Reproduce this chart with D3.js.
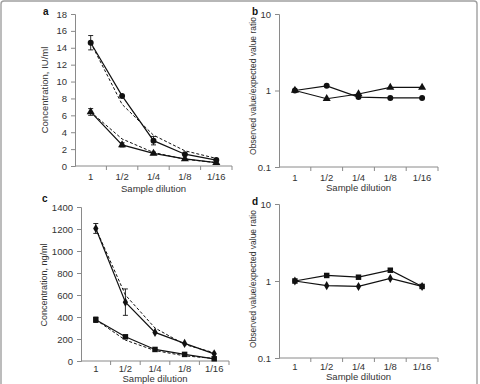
<!DOCTYPE html>
<html lang="en">
<head>
<meta charset="UTF-8">
<title>Dilution linearity</title>
<script src="https://cdnjs.cloudflare.com/ajax/libs/d3/7.8.5/d3.min.js"></script>
<style>
    body { margin: 0; background: #fff; }
    svg { display: block; font-family: "Liberation Sans", Arial, sans-serif; }
    .tick text { fill: #333; }
</style>
</head>
<body>
<svg id="chart" width="480" height="384"></svg>
<script>
    // category labels
    const dilutions = ["1", "1/2", "1/4", "1/8", "1/16"];

    // panel a: concentration IU/ml
    const aCircle = [14.6, 8.3, 3.0, 1.4, 0.7];
    const aCircleErr = [0.85, 0, 0.5, 0, 0];
    const aCircleExp = [14.6, 7.3, 3.65, 1.8, 0.9];
    const aTriangle = [6.4, 2.5, 1.5, 0.85, 0.4];
    const aTriangleErr = [0.4, 0.25, 0.15, 0, 0];
    const aTriangleExp = [6.4, 3.2, 1.6, 0.8, 0.4];

    // panel b: observed / expected ratio
    const bCircle = [1, 1.15, 0.82, 0.8, 0.8];
    const bTriangle = [1, 0.78, 0.9, 1.1, 1.1];

    // panel c: concentration ng/ml
    const cDiamond = [1205, 535, 260, 160, 65];
    const cDiamondErr = [45, 120, 0, 0, 0];
    const cDiamondExp = [1205, 600, 300, 150, 75];
    const cSquare = [375, 220, 105, 60, 20];
    const cSquareErr = [25, 0, 0, 0, 0];
    const cSquareExp = [375, 190, 95, 47, 23];

    // panel d: observed / expected ratio
    const dSquare = [1, 1.18, 1.12, 1.38, 0.85];
    const dDiamond = [1, 0.87, 0.85, 1.08, 0.85];

    const svg = d3.select("#chart");
    const ink = "#111";
    const axisColor = "#8a8a8a";

    // light frame round the figure
    svg.append("rect")
        .attr("x", 1).attr("y", 1)
        .attr("width", 476).attr("height", 400)
        .attr("rx", 3)
        .attr("fill", "none")
        .attr("stroke", "#a0a0a0")
        .attr("stroke-width", 1.4);

    const symbols = {
        circle: d3.symbol().type(d3.symbolCircle).size(28),
        triangle: d3.symbol().type(d3.symbolTriangle).size(28),
        square: d3.symbol().type(d3.symbolSquare).size(30),
        diamond: d3.symbol().type(d3.symbolDiamond).size(24)
    };

    function panel(cfg) {
        const g = svg.append("g");
        const x = d3.scaleBand().domain(dilutions).range(cfg.xr);
        const y = cfg.log
            ? d3.scaleLog().domain([0.1, 10]).range(cfg.yr)
            : d3.scaleLinear().domain([0, cfg.ymax]).range(cfg.yr);
        const cx = d => x(d) + x.bandwidth() / 2;

        // y axis
        const yAxis = cfg.log
            ? d3.axisLeft(y).tickValues([0.1, 1, 10]).tickFormat(d3.format("~g"))
            : d3.axisLeft(y).tickValues(d3.range(0, cfg.ymax + 1, cfg.ystep)).tickFormat(d3.format("d"));
        const ya = g.append("g")
            .attr("transform", `translate(${cfg.xr[0]},0)`)
            .call(yAxis.tickSize(4).tickPadding(4));
        ya.select(".domain").attr("stroke", axisColor);
        ya.selectAll(".tick line").attr("stroke", axisColor);
        ya.selectAll(".tick text").attr("font-size", 9.5);

        // x axis, ticks between categories
        const xa = g.append("g")
            .attr("transform", `translate(0,${cfg.yr[0]})`);
        xa.append("line")
            .attr("x1", cfg.xr[0]).attr("x2", cfg.xr[1])
            .attr("stroke", axisColor);
        xa.selectAll("line.sep")
            .data(dilutions)
            .enter().append("line")
            .attr("class", "sep")
            .attr("x1", d => x(d) + x.bandwidth()).attr("x2", d => x(d) + x.bandwidth())
            .attr("y1", 0).attr("y2", 4)
            .attr("stroke", axisColor);
        xa.selectAll("text")
            .data(dilutions)
            .enter().append("text")
            .attr("x", cx)
            .attr("y", cfg.catOffset)
            .attr("text-anchor", "middle")
            .attr("font-size", 9.5)
            .attr("fill", "#333")
            .text(d => d);

        g.append("text")
            .attr("x", (cfg.xr[0] + cfg.xr[1]) / 2)
            .attr("y", cfg.xlabelY)
            .attr("text-anchor", "middle")
            .attr("font-size", 9.5)
            .attr("fill", "#333")
            .text("Sample dilution");

        g.append("text")
            .attr("transform", `translate(${cfg.ylabelX},${cfg.ylabelY}) rotate(-90)`)
            .attr("text-anchor", "middle")
            .attr("font-size", cfg.ylabelSize)
            .attr("fill", "#333")
            .text(cfg.ylabel);

        g.append("text")
            .attr("x", cfg.letter[0]).attr("y", cfg.letter[1])
            .attr("font-size", 10)
            .attr("font-weight", "bold")
            .attr("fill", ink)
            .text(cfg.name);

        const line = d3.line()
            .x((d, i) => cx(dilutions[i]))
            .y(d => y(d));

        (cfg.expected || []).forEach(vals => {
            g.append("path")
                .datum(vals)
                .attr("d", line)
                .attr("fill", "none")
                .attr("stroke", ink)
                .attr("stroke-width", 1)
                .attr("stroke-dasharray", "3,2");
        });

        cfg.series.forEach(s => {
            g.append("path")
                .datum(s.values)
                .attr("d", line)
                .attr("fill", "none")
                .attr("stroke", ink)
                .attr("stroke-width", 1.2);

            if (s.err) {
                const eb = g.append("g").selectAll("g")
                    .data(s.values.map((v, i) => ({ v, e: s.err[i], c: dilutions[i] })).filter(d => d.e > 0))
                    .enter().append("g")
                    .attr("stroke", ink)
                    .attr("stroke-width", 0.9);
                eb.append("line")
                    .attr("x1", d => cx(d.c)).attr("x2", d => cx(d.c))
                    .attr("y1", d => y(d.v - d.e)).attr("y2", d => y(d.v + d.e));
                eb.append("line")
                    .attr("x1", d => cx(d.c) - 2.5).attr("x2", d => cx(d.c) + 2.5)
                    .attr("y1", d => y(d.v + d.e)).attr("y2", d => y(d.v + d.e));
                eb.append("line")
                    .attr("x1", d => cx(d.c) - 2.5).attr("x2", d => cx(d.c) + 2.5)
                    .attr("y1", d => y(d.v - d.e)).attr("y2", d => y(d.v - d.e));
            }

            g.append("g").selectAll("path")
                .data(s.values)
                .enter().append("path")
                .attr("d", symbols[s.shape])
                .attr("transform", (d, i) => `translate(${cx(dilutions[i])},${y(d)})`)
                .attr("fill", ink);
        });
    }

    panel({
        name: "a", letter: [43, 15],
        xr: [75, 232], yr: [166, 14], ymax: 18, ystep: 2, catOffset: 14,
        ylabel: "Concentration, IU/ml", ylabelX: 48, ylabelY: 90, ylabelSize: 9.5, xlabelY: 192,
        expected: [aCircleExp, aTriangleExp],
        series: [
            { values: aCircle, err: aCircleErr, shape: "circle" },
            { values: aTriangle, err: aTriangleErr, shape: "triangle" }
        ]
    });

    panel({
        name: "b", letter: [252, 15], log: true,
        xr: [279, 438], yr: [167, 14], catOffset: 14,
        ylabel: "Observed value/expected value ratio", ylabelX: 256, ylabelY: 86, ylabelSize: 8.5, xlabelY: 191,
        series: [
            { values: bCircle, shape: "circle" },
            { values: bTriangle, shape: "triangle" }
        ]
    });

    panel({
        name: "c", letter: [42, 202],
        xr: [81, 229], yr: [361, 207], ymax: 1400, ystep: 200, catOffset: 11,
        ylabel: "Concentration, ng/ml", ylabelX: 47, ylabelY: 285, ylabelSize: 9, xlabelY: 382,
        expected: [cDiamondExp, cSquareExp],
        series: [
            { values: cDiamond, err: cDiamondErr, shape: "diamond" },
            { values: cSquare, err: cSquareErr, shape: "square" }
        ]
    });

    panel({
        name: "d", letter: [252, 205], log: true,
        xr: [279, 438], yr: [358, 204], catOffset: 12,
        ylabel: "Observed value/expected value ratio", ylabelX: 256, ylabelY: 279, ylabelSize: 8.5, xlabelY: 380,
        series: [
            { values: dSquare, shape: "square" },
            { values: dDiamond, shape: "diamond" }
        ]
    });
</script>
</body>
</html>
